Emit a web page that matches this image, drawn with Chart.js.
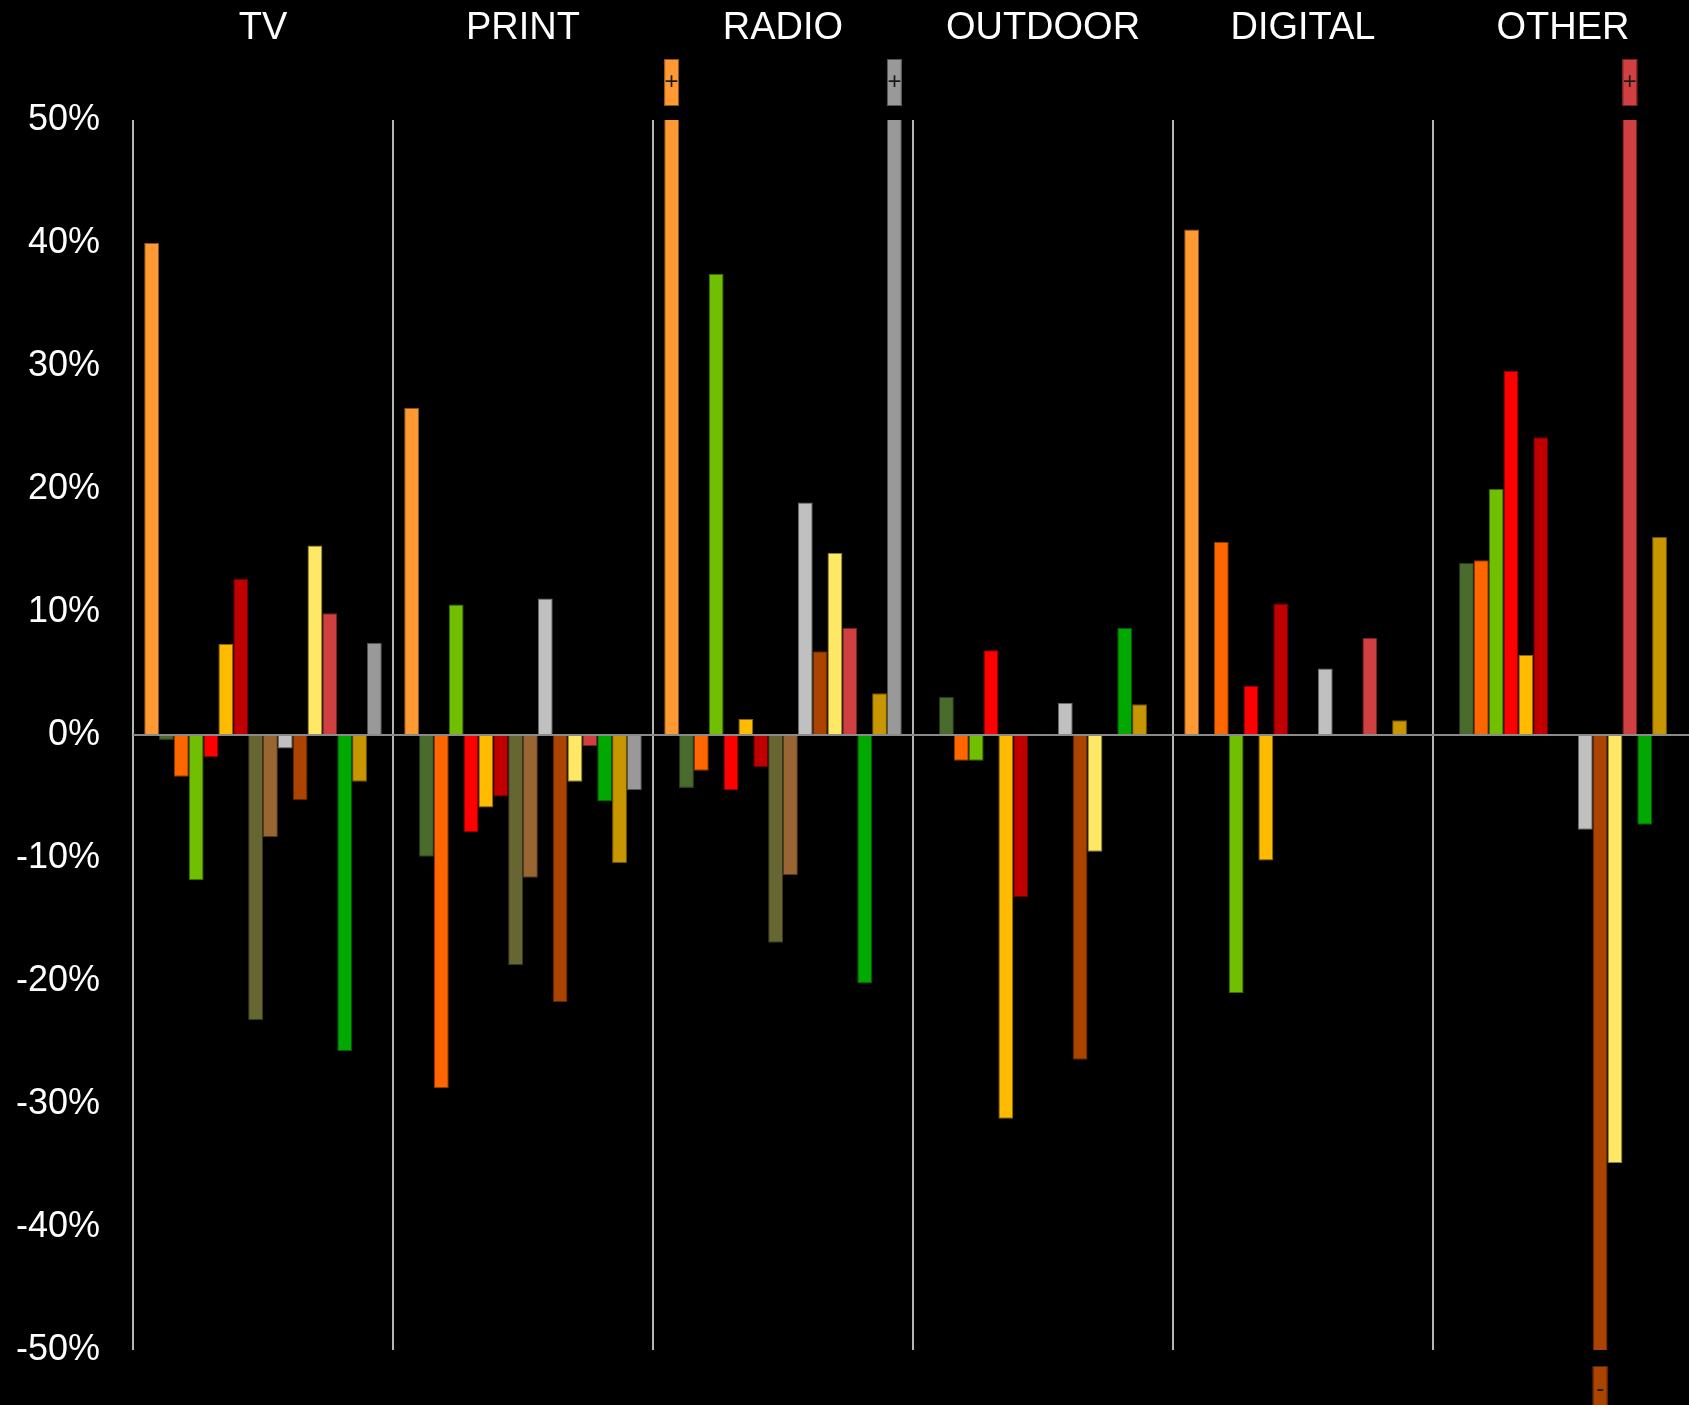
<!DOCTYPE html>
<html>
<head>
<meta charset="utf-8">
<script src="https://cdn.jsdelivr.net/npm/chart.js@4/dist/chart.umd.min.js"></script>
<style>
  html, body { margin: 0; padding: 0; background: #000; overflow: hidden; }
  /* a bit wider than the window: the last group runs past the edge in the original */
  #wrap { width: 1693px; height: 1405px; }
</style>
</head>
<body>
<div id="wrap"><canvas id="myChart"></canvas></div>
<script>
// media categories (one group each)
const categories = ["TV", "PRINT", "RADIO", "OUTDOOR", "DIGITAL", "OTHER"];

// % change per series inside each group, 16 series, null = no bar
// values beyond +/-50 are clipped and get a +/- marker
const tvValues      = [40.0, -0.4, -3.4, -11.8, -1.8, 7.4, 12.7, -23.2, -8.3, -1.1, -5.3, 15.4, 9.9, -25.7, -3.8, 7.5];
const printValues   = [26.6, -9.9, -28.7, 10.6, -7.9, -5.9, -5.0, -18.7, -11.6, 11.1, -21.7, -3.8, -0.9, -5.4, -10.4, -4.5];
const radioValues   = [62, -4.3, -2.9, 37.5, -4.5, 1.3, -2.6, -16.9, -11.4, 18.9, 6.8, 14.8, 8.7, -20.2, 3.4, 75];
const outdoorValues = [null, 3.1, -2.1, -2.1, 6.9, -31.2, -13.2, 0.1, null, 2.6, -26.4, -9.5, 0.1, 8.7, 2.5, null];
const digitalValues = [41.1, null, 15.7, -21.0, 4.0, -10.2, 10.7, null, null, 5.4, null, null, 7.9, null, 1.2, null];
const otherValues   = [null, 14.0, 14.2, 20.0, 29.6, 6.5, 24.2, null, null, -7.7, -62, -34.8, 58, -7.3, 16.1, null];

const yMin = -50;
const yMax = 50;
const yStep = 10;

const seriesColors = [
    "#FF9933", "#4A6B2E", "#FF6600", "#70BF00", "#FF0000", "#FFBB00", "#C00000", "#666633",
    "#996633", "#C0C0C0", "#AA4400", "#FFE866", "#D04040", "#00A800", "#C89600", "#999999"
];

let darken = (hex, f) => {
    let n = parseInt(hex.slice(1), 16);
    let r = Math.round(((n >> 16) & 255) * f);
    let g = Math.round(((n >> 8) & 255) * f);
    let b = Math.round((n & 255) * f);
    return `rgb(${r},${g},${b})`;
};

let groups = [tvValues, printValues, radioValues, outdoorValues, digitalValues, otherValues];

let datasets = seriesColors.map((color, i) => ({
    label: "Series " + (i + 1),
    data: groups.map(g => g[i]),
    backgroundColor: color,
    borderColor: darken(color, 0.55),
    borderWidth: 1,
    clip: 0,
}));

// draws the little +/- boxes for bars that run off the scale
const overflowMarks = {
    id: "overflowMarks",
    afterDatasetsDraw(chart) {
        const ctx = chart.ctx;
        const area = chart.chartArea;
        chart.data.datasets.forEach((ds, i) => {
            const meta = chart.getDatasetMeta(i);
            meta.data.forEach((bar, j) => {
                const v = ds.data[j];
                if (v === null || (v <= yMax && v >= yMin)) return;
                const {x, width} = bar.getProps(["x", "width"], true);
                const h = 47;
                const top = v > yMax ? area.top - 14 - h : area.bottom + 16;
                ctx.save();
                ctx.fillStyle = ds.backgroundColor;
                ctx.strokeStyle = ds.borderColor;
                ctx.lineWidth = 1;
                ctx.fillRect(x - width / 2, top, width, h);
                ctx.strokeRect(x - width / 2 + 0.5, top + 0.5, width - 1, h - 1);
                ctx.fillStyle = "#1a1a1a";
                ctx.font = "24px 'Liberation Sans', Arial, sans-serif";
                ctx.textAlign = "center";
                ctx.textBaseline = "middle";
                ctx.fillText(v > yMax ? "+" : "-", x, top + h / 2);
                ctx.restore();
            });
        });
    }
};

const ctx = document.getElementById("myChart");

let chart = new Chart(ctx, {
    type: "bar",
    data: {
        labels: categories,
        datasets: datasets,
    },
    plugins: [overflowMarks],
    options: {
        responsive: true,
        maintainAspectRatio: false,
        animation: false,
        devicePixelRatio: 1,
        categoryPercentage: 0.914,
        barPercentage: 1.0,
        layout: { padding: { top: 0, right: 0, bottom: 55, left: 0 } },
        plugins: {
            legend: { display: false },
            tooltip: { enabled: false },
        },
        scales: {
            x: {
                position: "top",
                grid: { color: "#b4b4b4", lineWidth: 2, drawTicks: false, offset: true },
                border: { display: false },
                ticks: {
                    color: "#ffffff",
                    padding: 69,
                    font: { size: 38, family: "'Liberation Sans', Arial, sans-serif" },
                },
                afterFit: (s) => {
                    s.height = 120;
                    // big label padding should not eat into the width
                    s.paddingLeft = 0;
                    s.paddingRight = 0;
                },
            },
            y: {
                min: yMin,
                max: yMax,
                z: 1,
                grid: {
                    color: (c) => (c.tick && c.tick.value === 0 ? "#8a8a8a" : "transparent"),
                    lineWidth: 2,
                    drawTicks: false,
                },
                border: { display: false },
                ticks: {
                    stepSize: yStep,
                    color: "#ffffff",
                    padding: 33,
                    font: { size: 36, family: "'Liberation Sans', Arial, sans-serif" },
                    callback: (v) => v + "%",
                },
                afterFit: (s) => { s.width = 133; },
            },
        },
    },
});
</script>
</body>
</html>
